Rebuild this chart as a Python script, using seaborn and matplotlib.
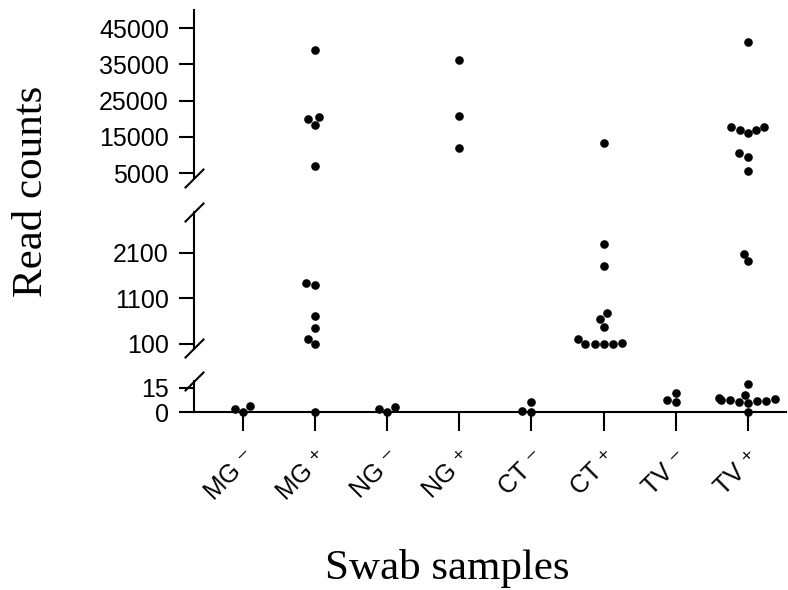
import numpy as np
import pandas as pd
import seaborn as sns
import matplotlib.pyplot as plt

# read counts per swab group
groups = ["MG ⁻", "MG ⁺", "NG ⁻", "NG ⁺", "CT ⁻", "CT ⁺", "TV ⁻", "TV ⁺"]
mg_neg = [0, 3.5, 2]
mg_pos = [39000, 20500, 18300, 19900, 7000, 1430, 1390, 710, 440, 210, 90, 0]
ng_neg = [0, 3, 2]
ng_pos = [36200, 20800, 12000]
ct_neg = [0, 6, 0.5]
ct_pos = [13400, 2290, 1810, 650, 770, 480, 100, 130, 100, 100, 210, 90]
tv_neg = [6.3, 11.8, 7.3]
tv_pos = [41200, 17800, 17800, 17000, 17000, 16000, 10500, 9600, 5600,
          2080, 1910,
          17, 6.3, 7.3, 10.4, 8.5, 7.3, 5.5, 7, 6.5, 8, 0.2]

top_ticks = [5000, 15000, 25000, 35000, 45000]
mid_ticks = [100, 1100, 2100]
low_ticks = [0, 15]

values = [mg_neg, mg_pos, ng_neg, ng_pos, ct_neg, ct_pos, tv_neg, tv_pos]
df = pd.DataFrame({
    "group": np.repeat(groups, [len(v) for v in values]),
    "count": np.concatenate(values),
})

sns.set_style("ticks")
plt.rcParams["font.family"] = ["Liberation Sans", "DejaVu Sans"]
plt.rcParams.update({"text.color": "black", "xtick.color": "black",
                     "ytick.color": "black", "axes.labelcolor": "black"})

fig = plt.figure(figsize=(7.88, 5.90), dpi=100)
W, H = 788, 590
left, right = 194, 786


def make_ax(y_top, y_bot):
    return fig.add_axes([left / W, 1 - y_bot / H, (right - left) / W, (y_bot - y_top) / H])


ax_top = make_ax(10, 178)
ax_mid = make_ax(212, 348)
ax_low = make_ax(381, 412)

segments = [
    (ax_top, df[df["count"] >= 3000], (3700, 50000), top_ticks),
    (ax_mid, df[(df["count"] >= 50) & (df["count"] < 3000)], (12, 2990), mid_ticks),
    (ax_low, df[df["count"] < 50], (0, 19), low_ticks),
]

for ax, sub, lim, ticks in segments:
    sns.swarmplot(data=sub, x="group", y="count", order=groups, ax=ax,
                  color="black", size=6.2, linewidth=0)
    for c in ax.collections:
        c.set_clip_on(False)
    ax.set_ylim(*lim)
    ax.set_xlim(-0.68, 7.53)
    ax.set_yticks(ticks)
    ax.set_yticklabels([str(t) for t in ticks])
    ax.set_xlabel("")
    ax.set_ylabel("")
    ax.tick_params(axis="y", length=11, width=1.5, pad=7, labelsize=18,
                   color="black", labelcolor="black")
    for s in ["top", "right"]:
        ax.spines[s].set_visible(False)
    ax.spines["left"].set_linewidth(1.5)
    ax.spines["left"].set_color("black")
    ax.patch.set_alpha(0)

for ax in [ax_top, ax_mid]:
    ax.spines["bottom"].set_visible(False)
    ax.tick_params(axis="x", bottom=False, labelbottom=False)

ax_low.spines["bottom"].set_linewidth(1.5)
ax_low.spines["bottom"].set_color("black")
ax_low.tick_params(axis="x", length=14, width=1.5, pad=10, labelsize=18,
                   color="black", labelcolor="black")
ax_low.set_xticks(range(len(groups)))
ax_low.set_xticklabels(groups, rotation=45, ha="right", rotation_mode="anchor")

# break marks on the y axis
brk = dict(marker=[(-1, -1), (1, 1)], markersize=14, linestyle="none",
           color="black", mec="black", mew=1.5, clip_on=False)
ax_top.plot([0], [0], transform=ax_top.transAxes, **brk)
ax_mid.plot([0, 0], [0, 1], transform=ax_mid.transAxes, **brk)
ax_low.plot([0], [1], transform=ax_low.transAxes, **brk)

serif = ["Liberation Serif", "DejaVu Serif"]
fig.text(32 / W, 1 - 191 / H, "Read counts", rotation=90, ha="center", va="center",
         fontsize=31, family=serif, color="black")
fig.text(447 / W, 1 - 568 / H, "Swab samples", ha="center", va="center",
         fontsize=31, family=serif, color="black")

fig.savefig("out.png", dpi=100)
